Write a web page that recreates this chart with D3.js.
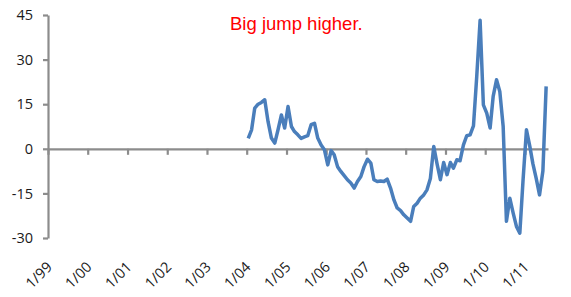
<!DOCTYPE html>
<html lang="en">
<head>
<meta charset="utf-8">
<title>Big jump higher</title>
<script src="https://cdn.jsdelivr.net/npm/d3@7"></script>
<style>
  body, html { margin: 0; background: #fff; }
  .tick-label { font-family: 'Open Sans', sans-serif; font-size: 14.5px; fill: #1a1a1a; }
  .axis path, .axis line { stroke: #8c8c8c; stroke-width: 2.2; }
  .note { font-family: 'Liberation Sans', Arial, sans-serif; font-size: 18.5px; fill: #ff0000; }
</style>
</head>
<body>
<script>
// tick labels on the date axis (jan of every year)
var xTickLabels = ["1/99","1/00","1/01","1/02","1/03","1/04","1/05","1/06","1/07","1/08","1/09","1/10","1/11"];
var yTicks = [-30, -15, 0, 15, 30, 45];

// monthly series, first value is jan 2004
var firstMonth = "1/04";
var values = [
  3.5, 6.4, 13.7, 15.0, 15.6, 16.5, 9.2, 3.6, 1.9, 6.4, 11.4, 7.0,        // 2004
  14.2, 7.5, 5.8, 4.7, 3.5, 4.0, 4.4, 8.1, 8.6, 3.6, 1.3, -0.3,           // 2005
  -5.4, -0.6, -2.0, -6.0, -7.6, -9.0, -10.4, -11.5, -13.2, -11.0, -9.3, -6.0, // 2006
  -3.5, -4.8, -10.4, -11.0, -10.8, -11.0, -10.2, -13.2, -17.2, -19.9, -20.8, -22.2, // 2007
  -23.3, -24.4, -19.4, -18.3, -16.6, -15.5, -13.8, -10.0, 0.8, -5.0, -10.4, -4.6, // 2008
  -8.7, -4.6, -6.5, -3.7, -4.0, 1.3, 4.4, 4.7, 7.7, 24.3, 43.2, 14.8,      // 2009
  12.0, 7.0, 17.6, 23.2, 19.3, 7.5, -24.4, -16.6, -21.6, -26.1, -28.4, -10.4, // 2010
  6.4, 0.8, -5.0, -10.0, -15.5, -7.5, 21.0                                 // 2011
];
var note = "Big jump higher.";

var w = 571, h = 297;
var parseMonth = d3.timeParse("%m/%y");

var svg = d3.select("body").append("svg")
  .attr("width", w)
  .attr("height", h);

var x = d3.scaleTime()
  .domain([parseMonth("1/99"), new Date(2011, 7, 1)])
  .range([48, 548]);

var y = d3.scaleLinear()
  .domain([-30, 45])
  .range([238, 15]);

var start = parseMonth(firstMonth);
var points = values.map(function(v, i) {
  // points sit in the middle of their month
  return { date: d3.timeDay.offset(d3.timeMonth.offset(start, i), 14), value: v };
});

// y axis, plain hyphen for negatives like the original
var yAxis = svg.append("g")
  .attr("class", "axis")
  .attr("transform", "translate(48,0)")
  .call(d3.axisLeft(y).tickValues(yTicks).tickSize(5).tickPadding(10).tickSizeOuter(0)
    .tickFormat(function(d) { return String(d); }));
yAxis.selectAll("text").attr("class", "tick-label").attr("font-size", null).attr("font-family", null);

// x axis on the zero line, labels placed at the bottom
var tickDates = xTickLabels.map(function(s) { return parseMonth(s); });
svg.append("g")
  .attr("class", "axis")
  .attr("transform", "translate(0," + y(0) + ")")
  .call(d3.axisBottom(x).tickValues(tickDates).tickSize(6).tickSizeOuter(0).tickFormat(""));

svg.selectAll(".xlab")
  .data(xTickLabels)
  .enter()
  .append("text")
  .attr("class", "tick-label xlab")
  .attr("text-anchor", "end")
  .attr("transform", function(d) {
    return "translate(" + (x(parseMonth(d)) + 5) + ",268) rotate(-45)";
  })
  .text(function(d) { return d; });

// line
var line = d3.line()
  .x(function(d) { return x(d.date); })
  .y(function(d) { return y(d.value); });

svg.append("path")
  .datum(points)
  .attr("fill", "none")
  .attr("stroke", "#4a7ebb")
  .attr("stroke-width", 3.5)
  .attr("stroke-linejoin", "round")
  .attr("d", line);

svg.append("text")
  .attr("class", "note")
  .attr("x", 230)
  .attr("y", 30)
  .text(note);
</script>
</body>
</html>
